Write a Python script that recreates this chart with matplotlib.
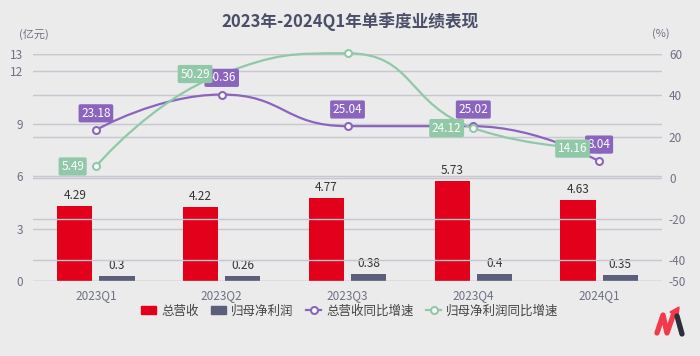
import numpy as np
import matplotlib.pyplot as plt
from matplotlib.path import Path
from matplotlib.patches import PathPatch, Patch, Polygon
from matplotlib.lines import Line2D

plt.rcParams['font.family'] = ['Noto Sans CJK SC', 'DejaVu Sans']
plt.rcParams['axes.unicode_minus'] = False

quarters = ['2023Q1', '2023Q2', '2023Q3', '2023Q4', '2024Q1']
revenue = [4.29, 4.22, 4.77, 5.73, 4.63]
net_profit = [0.3, 0.26, 0.38, 0.4, 0.35]
revenue_yoy = [23.18, 40.36, 25.04, 25.02, 8.04]
profit_yoy = [5.49, 50.29, 60.35, 24.12, 14.16]

left_ticks = [0, 3, 6, 9, 12, 13]
right_ticks = [-50, -40, -20, 0, 20, 40, 60]

RED = '#e2001a'
SLATE = '#5c5f7b'
PURPLE = '#8b64be'
GREEN = '#90c8a8'
BG = '#ebebeb'
GRID = '#c6c7d0'
TICK = '#6e7085'


def smooth_path(xs, ys, sx, sy, smooth=0.5):
    # echarts-like smoothed bezier, computed in pixel space
    p = [(x * sx, y * sy) for x, y in zip(xs, ys)]
    n = len(p)
    verts = [p[0]]
    codes = [Path.MOVETO]
    cp0 = p[0]
    for k in range(1, n):
        x, y = p[k]
        if k == n - 1:
            cp1 = (x, y)
            nxt = (x, y)
        else:
            px, py = p[k - 1]
            nx, ny = p[k + 1]
            vx, vy = nx - px, ny - py
            lp = np.hypot(x - px, y - py)
            ln = np.hypot(nx - x, ny - y)
            r = ln / (ln + lp)
            ncx = x + vx * smooth * r
            ncy = y + vy * smooth * r
            ncx = max(min(ncx, max(nx, x)), min(nx, x))
            ncy = max(min(ncy, max(ny, y)), min(ny, y))
            vx, vy = ncx - x, ncy - y
            c1x = x - vx * lp / ln
            c1y = y - vy * lp / ln
            c1x = max(min(c1x, max(px, x)), min(px, x))
            c1y = max(min(c1y, max(py, y)), min(py, y))
            vx, vy = x - c1x, y - c1y
            cp1 = (c1x, c1y)
            nxt = (x + vx * ln / lp, y + vy * ln / lp)
        verts += [cp0, cp1, (x, y)]
        codes += [Path.CURVE4] * 3
        cp0 = nxt
    verts = [(a / sx, b / sy) for a, b in verts]
    return Path(verts, codes)


fig = plt.figure(figsize=(7, 3.56), dpi=100)
fig.patch.set_facecolor(BG)
ax = fig.add_axes([33 / 700, 75 / 356, 629 / 700, 227 / 356])
ax.set_facecolor(BG)
ax2 = ax.twinx()

x = np.arange(len(quarters))
ax.set_xlim(-0.5, len(quarters) - 0.5)
ax.set_ylim(0, 13)
ax2.set_ylim(-50, 60)

for t in left_ticks:
    ax.axhline(t, color=GRID, lw=1, zorder=0)
for t in right_ticks:
    ax2.axhline(t, color=GRID, lw=1, zorder=0)

w = 0.28
b1 = ax.bar(x - 0.168, revenue, w, color=RED, zorder=2)
b2 = ax.bar(x + 0.168, net_profit, w, color=SLATE, zorder=2)
for bars, vals in [(b1, revenue), (b2, net_profit)]:
    for bar, v in zip(bars, vals):
        ax.annotate(f'{v:g}', (bar.get_x() + bar.get_width() / 2, v),
                    xytext=(0, 3), textcoords='offset points',
                    ha='center', va='bottom', fontsize=8.5, color='#333333')

sx = 629 / 5
sy = 227 / 110
for vals, col in [(revenue_yoy, PURPLE), (profit_yoy, GREEN)]:
    path = smooth_path(x, vals, sx, sy)
    ax2.add_patch(PathPatch(path, fill=False, edgecolor=col, lw=1.6, zorder=3, clip_on=False))
    ax2.plot(x, vals, 'o', ms=5, mfc='white', mec=col, mew=1.5, zorder=4, clip_on=False)

for xi, v in zip(x, revenue_yoy):
    ax2.annotate(f'{v:.2f}', (xi, v), xytext=(0, 12), textcoords='offset points',
                 ha='center', va='center', fontsize=8.5, color='white', zorder=5,
                 bbox=dict(boxstyle='round,pad=0.22,rounding_size=0.15', fc=PURPLE, ec='none'))
for xi, v in zip(x, profit_yoy):
    ax2.annotate(f'{v:.2f}', (xi, v), xytext=(-8.5, 0), textcoords='offset points',
                 ha='right', va='center', fontsize=8.5, color='white', zorder=6,
                 bbox=dict(boxstyle='round,pad=0.22,rounding_size=0.15', fc=GREEN, ec='none'))

ax.set_xticks(x)
ax.set_xticklabels(quarters)
ax.set_yticks(left_ticks)
ax2.set_yticks(right_ticks)
ax.tick_params(axis='x', length=0, pad=6, labelsize=8.5, labelcolor=TICK)
ax.tick_params(axis='y', length=0, pad=7, labelsize=8.5, labelcolor=TICK)
ax2.tick_params(axis='y', length=0, pad=5, labelsize=8.5, labelcolor=TICK)
for a in (ax, ax2):
    for s in a.spines.values():
        s.set_visible(False)

fig.text(350 / 700, 1 - 22 / 356, '2023年-2024Q1年单季度业绩表现', ha='center', va='center',
         fontsize=12, fontweight='bold', color='#4a4e68')
fig.text(34 / 700, 1 - 34 / 356, '(亿元)', ha='center', va='center', fontsize=8, color=TICK)
fig.text(661 / 700, 1 - 34 / 356, '(%)', ha='center', va='center', fontsize=8, color=TICK)

handles = [Patch(color=RED), Patch(color=SLATE),
           Line2D([], [], color=PURPLE, marker='o', ms=5, mfc='white', mew=1.5, lw=1.6),
           Line2D([], [], color=GREEN, marker='o', ms=5, mfc='white', mew=1.5, lw=1.6)]
labels = ['总营收', '归母净利润', '总营收同比增速', '归母净利润同比增速']
leg = fig.legend(handles, labels, loc='center', bbox_to_anchor=(0.5, 1 - 311 / 356), ncol=4,
                 frameon=False, fontsize=9, handlelength=1.2, handleheight=0.6,
                 handletextpad=0.4, columnspacing=1.0)
for t in leg.get_texts():
    t.set_color('#444444')


def fp(px, py):
    return (px / 700, 1 - py / 356)


fig.lines.append(Line2D(*zip(*[fp(657, 333), fp(663, 315), fp(667, 333), fp(674, 313)]),
                        transform=fig.transFigure, color='#f23a4c', lw=3.8,
                        solid_capstyle='round', solid_joinstyle='round'))
fig.patches.append(Polygon([fp(670, 312), fp(679, 307), fp(678, 317)], closed=True,
                           transform=fig.transFigure, color='#f23a4c'))
fig.lines.append(Line2D(*zip(*[fp(677, 316), fp(682, 334)]), transform=fig.transFigure,
                        color='#2c2f3a', lw=3.8, solid_capstyle='round'))

fig.savefig('out.png', dpi=100, facecolor=BG)
